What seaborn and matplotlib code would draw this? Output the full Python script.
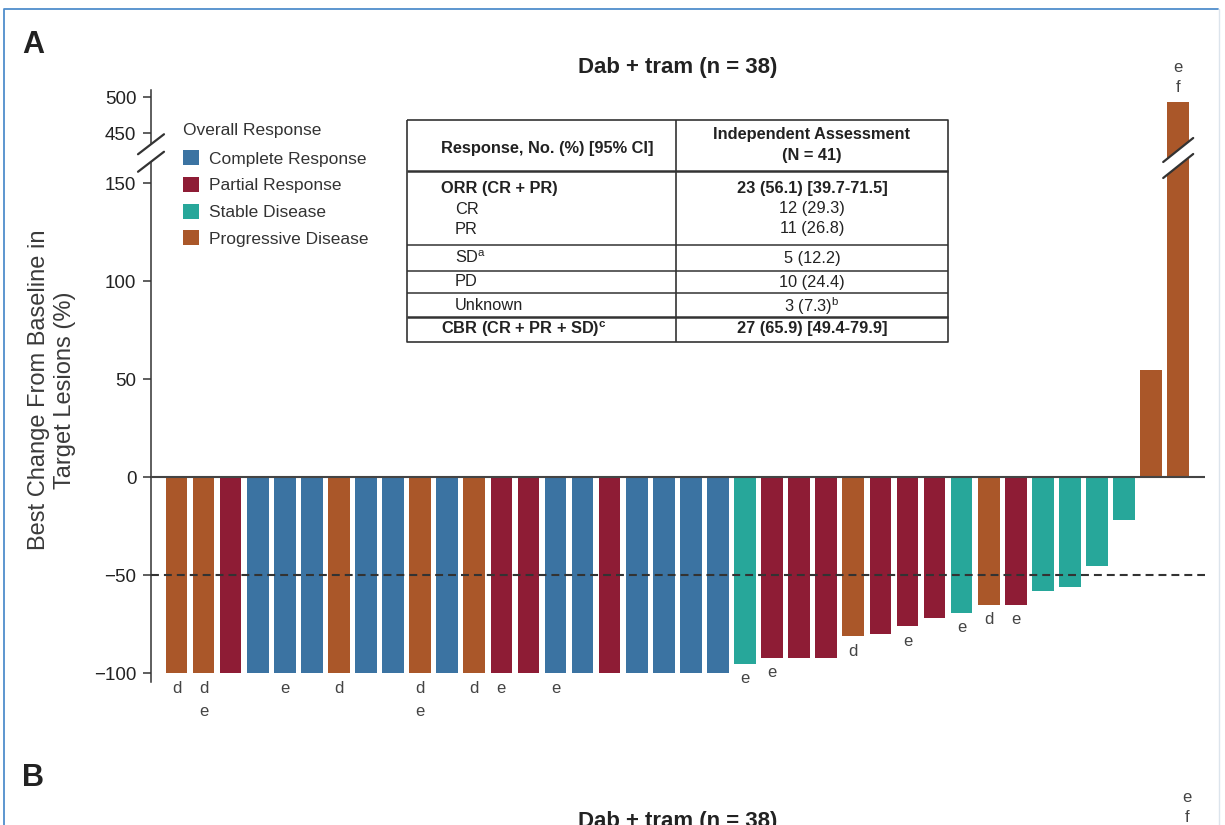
import numpy as np
import pandas as pd
import matplotlib
matplotlib.use("Agg")
import matplotlib.pyplot as plt
import matplotlib.patches as mpatches
import matplotlib.transforms as mtransforms
from matplotlib.patches import Polygon
from matplotlib.lines import Line2D
import seaborn as sns

# ---- data -------------------------------------------------------------
patients = [f"P{i:02d}" for i in range(1, 39)]
responses = ["PD", "PD", "PR", "CR", "CR", "CR", "PD", "CR", "CR", "PD",
             "CR", "PD", "PR", "PR", "CR", "CR", "PR", "CR", "CR", "CR",
             "CR", "SD", "PR", "PR", "PR", "PD", "PR", "PR", "PR", "SD",
             "PD", "PR", "SD", "SD", "SD", "SD", "PD", "PD"]
best_change = [-100, -100, -100, -100, -100, -100, -100, -100, -100, -100,
               -100, -100, -100, -100, -100, -100, -100, -100, -100, -100,
               -100, -95, -92, -92, -92, -81, -80, -76, -72, -69,
               -65, -65, -58, -56, -45, -22, 55, 494]
footnotes = ["d", "de", "", "", "e", "", "d", "", "", "de",
             "", "d", "e", "", "e", "", "", "", "", "",
             "", "e", "e", "", "", "d", "", "e", "", "e",
             "d", "e", "", "", "", "", "", "ef"]

response_names = {"CR": "Complete Response", "PR": "Partial Response",
                  "SD": "Stable Disease", "PD": "Progressive Disease"}
response_order = ["Complete Response", "Partial Response",
                  "Stable Disease", "Progressive Disease"]
response_colors = ["#3B73A2", "#8E1C35", "#27A79A", "#AA5729"]

lower_ticks = [-100, -50, 0, 50, 100, 150]
upper_ticks = [450, 500]

table_left = ["Response, No. (%) [95% CI]", "ORR (CR + PR)", "CR", "PR",
              r"SD$^{\mathrm{a}}$", "PD", "Unknown",
              r"CBR (CR + PR + SD)$^{\mathbf{c}}$"]
table_right = ["Independent Assessment\n(N = 41)", "23 (56.1) [39.7-71.5]",
               "12 (29.3)", "11 (26.8)", "5 (12.2)", "10 (24.4)",
               r"3 (7.3)$^{\mathrm{b}}$", "27 (65.9) [49.4-79.9]"]
table_bold = [True, True, False, False, False, False, False, True]
table_indent = [False, False, True, True, True, True, True, False]

title = "Dab + tram (n = 38)"

# ---- style ------------------------------------------------------------
sns.set_theme(style="white")
plt.rcParams["font.family"] = ["Liberation Sans", "DejaVu Sans"]
plt.rcParams["mathtext.fontset"] = "custom"
plt.rcParams["mathtext.rm"] = "Liberation Sans"
plt.rcParams["mathtext.bf"] = "Liberation Sans:bold"
plt.rcParams["axes.unicode_minus"] = True

W, H = 1225, 825
fig = plt.figure(figsize=(W / 100, H / 100), dpi=100)
fig.patch.set_facecolor("white")


def fbox(x0, y0, x1, y1):
    """Pixel box measured from the top-left corner -> figure fraction rect."""
    return [x0 / W, 1 - y1 / H, (x1 - x0) / W, (y1 - y0) / H]


def fx(x):
    return x / W


def fy(y):
    return 1 - y / H


palette = dict(zip(response_order, response_colors))
df = pd.DataFrame({
    "patient": patients,
    "change": best_change,
    "response": [response_names[r] for r in responses],
})

ax = fig.add_axes(fbox(151, 153, 1205, 682))
ax_top = fig.add_axes(fbox(151, 90, 1205, 153))

for a in (ax, ax_top):
    sns.barplot(data=df, x="patient", y="change", hue="response",
                order=patients, hue_order=response_order, palette=palette,
                saturation=1, dodge=False, width=0.8, linewidth=0,
                errorbar=None, legend=False, ax=a, zorder=2)
    a.set_facecolor("none")
    a.set_xlim(-0.94, 37.99)
    a.set_xlabel("")
    a.set_ylabel("")
    a.set_xticks([])
    for side in ("top", "right", "bottom"):
        a.spines[side].set_visible(False)
    a.spines["left"].set_color("#333333")
    a.spines["left"].set_linewidth(1.1)
    a.tick_params(axis="y", left=True, length=5.5, width=1.1, color="#333333",
                  labelsize=13.5, labelcolor="#222222", pad=5)

ax.set_ylim(-104.4, 165.5)
ax_top.set_ylim(422.6, 510.1)
ax.set_yticks(lower_ticks)
ax.set_yticklabels([f"{t}".replace("-", "\u2212") for t in lower_ticks])
ax_top.set_yticks(upper_ticks)
ax_top.set_yticklabels([str(t) for t in upper_ticks])

# reference lines
ax.axhline(0, color="#444444", lw=1.5, zorder=4)
ax.axhline(-50, color="#333333", lw=1.5, ls=(0, (3.8, 2.4)), zorder=4)

# footnote letters next to bar ends
for i, (v, notes) in enumerate(zip(best_change, footnotes)):
    if not notes:
        continue
    if v < 0:
        for k, letter in enumerate(notes):
            ax.annotate(letter, xy=(i, v), xytext=(0, -(10.8 + 16.6 * k)),
                        textcoords="offset points", ha="center", va="center",
                        fontsize=12, color="#444444", annotation_clip=False)
    else:
        target = ax_top if v > 165 else ax
        for k, letter in enumerate(reversed(notes)):
            target.annotate(letter, xy=(i, v), xytext=(0, 9.9 + 15.0 * k),
                            textcoords="offset points", ha="center",
                            va="center", fontsize=12, color="#444444",
                            annotation_clip=False)

# ---- axis break marks -------------------------------------------------
fig.canvas.draw()
ident = mtransforms.IdentityTransform()


def break_mark(anchor, half_w, half_h, gap, lw=1.6):
    x0, y0 = anchor
    up = [(x0 - half_w, y0 + gap / 2 - half_h), (x0 + half_w, y0 + gap / 2 + half_h)]
    lo = [(x0 - half_w, y0 - gap / 2 - half_h), (x0 + half_w, y0 - gap / 2 + half_h)]
    fig.add_artist(Polygon([up[0], up[1], lo[1], lo[0]], closed=True,
                           facecolor="white", edgecolor="none",
                           transform=ident, zorder=5))
    for seg in (up, lo):
        xs, ys = zip(*seg)
        fig.add_artist(Line2D(xs, ys, color="#333333", lw=lw,
                              transform=ident, zorder=6))


spine_anchor = ax.transAxes.transform((0, 1))
break_mark(spine_anchor, 13, 10, 17.5)
tall_bar = int(np.argmax(best_change))
bar_anchor = ax.transData.transform((tall_bar, 0))
bar_anchor = (bar_anchor[0], spine_anchor[1] - 5)
break_mark(bar_anchor, 15, 12, 16)

# ---- legend -----------------------------------------------------------
handles = [mpatches.Patch(facecolor=palette[n], edgecolor="none", label=n)
           for n in response_order]
leg = fig.legend(handles=handles, title="Overall Response", loc="upper left",
                 bbox_to_anchor=(fx(183), fy(123)), frameon=False,
                 fontsize=12.5, title_fontsize=12.5, alignment="left",
                 handlelength=0.95, handleheight=0.95, handletextpad=0.55,
                 labelspacing=0.58, borderpad=0, borderaxespad=0)
leg._legend_box.sep = 9
for t in leg.get_texts():
    t.set_color("#333333")
leg.get_title().set_color("#333333")

# ---- summary table ----------------------------------------------------
tx0, tx1, ty0, ty1 = 407, 948, 120, 342
tdiv = 676
tab = fig.add_axes(fbox(tx0, ty0, tx1, ty1))
tab.set_xlim(tx0, tx1)
tab.set_ylim(ty1, ty0)
tab.axis("off")
tab.patch.set_alpha(0)
line_kw = dict(color="#333333", solid_capstyle="butt", clip_on=False)
tab.plot([tx0, tx1, tx1, tx0, tx0], [ty0, ty0, ty1, ty1, ty0], lw=1.2, **line_kw)
tab.plot([tdiv, tdiv], [ty0, ty1], lw=1.2, **line_kw)
for yl, w in [(170.7, 1.8), (245, 1.1), (270.7, 1.1), (293, 1.1), (316.7, 1.8)]:
    tab.plot([tx0, tx1], [yl, yl], lw=w, **line_kw)

row_y = [148, 189, 209, 229, 258, 282, 306, 329]
for ly, rt, txt_r, b, ind in zip(row_y, table_left, table_right, table_bold, table_indent):
    weight = "bold" if b else "normal"
    tab.text(455 if ind else 441, ly, rt, ha="left", va="center",
             fontsize=11.8, fontweight=weight, color="#222222")
    ry = 145 if "\n" in txt_r else ly
    tab.text(812, ry, txt_r, ha="center", va="center", fontsize=11.8,
             fontweight=weight, color="#222222", linespacing=1.45)

# ---- labels -----------------------------------------------------------
fig.text(fx(678), fy(68), title, ha="center", va="center", fontsize=16,
         fontweight="bold", color="#222222")
fig.text(fx(52), fy(390), "Best Change From Baseline in\nTarget Lesions (%)",
         rotation=90, ha="center", va="center", multialignment="center",
         fontsize=17, color="#3a3a3a", linespacing=1.2)
fig.text(fx(33), fy(45), "A", ha="center", va="center", fontsize=22,
         fontweight="bold", color="#222222")

# start of the next panel
fig.text(fx(33), fy(778), "B", ha="center", va="center", fontsize=22,
         fontweight="bold", color="#222222")
fig.text(fx(678), fy(821), title, ha="center", va="center", fontsize=16,
         fontweight="bold", color="#222222")
fig.text(fx(1187), fy(797), "e", ha="center", va="center", fontsize=12,
         color="#444444")
fig.text(fx(1187), fy(818), "f", ha="center", va="center", fontsize=12,
         color="#444444")

# page frame
fig.add_artist(Line2D([fx(4), fx(4), fx(1218)], [0, fy(9), fy(9)],
                      color="#4F8DCB", lw=1.3, transform=fig.transFigure))
fig.add_artist(Line2D([fx(1219), fx(1219)], [0, fy(9)], color="#DCE4EC",
                      lw=1.0, transform=fig.transFigure))

fig.savefig("out.png", dpi=100, facecolor="white")
